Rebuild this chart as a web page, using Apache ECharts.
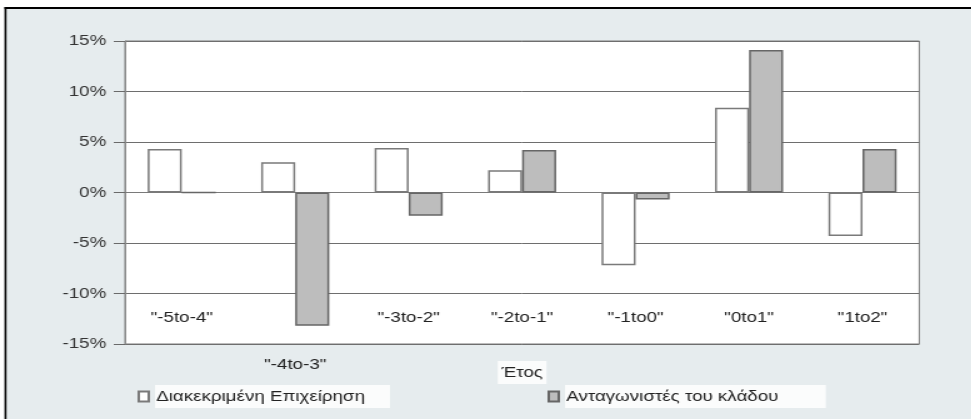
<!DOCTYPE html>
<html>
<head>
<meta charset="utf-8">
<script src="https://cdn.jsdelivr.net/npm/echarts@6/dist/echarts.min.js"></script>
<style>
  html, body { margin: 0; padding: 0; background: #ffffff; overflow: hidden; }
  #c { width: 777px; height: 419px; transform: scaleX(1.25); transform-origin: 0 0; }
</style>
</head>
<body>
<div id="c"></div>
<script>
const categories = ['"-5to-4"', '"-4to-3"', '"-3to-2"', '"-2to-1"', '"-1to0"', '"0to1"', '"1to2"'];
const firmValues = [4.3, 3.0, 4.4, 2.2, -7.2, 8.4, -4.3];
const rivalValues = [0, -13.2, -2.3, 4.2, -0.7, 14.1, 4.3];
const seriesNames = ['Διακεκριμένη Επιχείρηση', 'Ανταγωνιστές του κλάδου'];
const axisTitle = 'Έτος';
const yMin = -15, yMax = 15, yStep = 5;
const lowLabelIndex = 1; // label drawn below the plot (bar reaches near bottom)

const FONT = '"Liberation Sans", Arial, sans-serif';
const chart = echarts.init(document.getElementById('c'), null, { renderer: 'canvas' });

chart.setOption({
  backgroundColor: '#e6ecee',
  animation: false,
  textStyle: { fontFamily: FONT },
  graphic: [
    { type: 'rect', left: 0, top: 0, shape: { width: 777, height: 7 }, style: { fill: '#ffffff' }, silent: true },
    { type: 'rect', left: 0, top: 7, shape: { width: 777, height: 2 }, style: { fill: '#000000' }, silent: true },
    { type: 'rect', left: 0, top: 0, shape: { width: 3.6, height: 419 }, style: { fill: '#ffffff' }, silent: true },
    { type: 'rect', left: 3.6, top: 7, shape: { width: 1.6, height: 412 }, style: { fill: '#000000' }, silent: true }
  ],
  grid: {
    left: 100, right: 41.6, top: 41, bottom: 75,
    show: true, backgroundColor: '#ffffff', borderColor: '#7a7a7a', borderWidth: 1
  },
  legend: [
    {
      data: [seriesNames[0]], left: 110, top: 385, padding: 0,
      icon: 'rect', itemWidth: 8, itemHeight: 10, itemGap: 0,
      textStyle: { fontFamily: FONT, fontSize: 15, color: '#222', backgroundColor: '#fbfcfc', padding: [4, 20, 4, 1] }
    },
    {
      data: [seriesNames[1]], left: 438, top: 385, padding: 0,
      icon: 'rect', itemWidth: 8, itemHeight: 10, itemGap: 0,
      textStyle: { fontFamily: FONT, fontSize: 15, color: '#222', backgroundColor: '#fbfcfc', padding: [4, 38, 4, 1] }
    }
  ],
  xAxis: [
    {
      type: 'category', data: categories, position: 'bottom',
      name: axisTitle, nameLocation: 'middle', nameGap: 17,
      nameTextStyle: { fontFamily: FONT, fontSize: 15, color: '#222', backgroundColor: '#fbfcfc', padding: [4, 3, 4, 3] },
      axisLine: { show: true, lineStyle: { color: '#7a7a7a', width: 1 } },
      axisTick: { show: false },
      axisLabel: {
        interval: 0, margin: -34, fontFamily: FONT, fontSize: 15, color: '#222',
        formatter: (v, i) => (i === lowLabelIndex ? '' : v)
      },
      splitLine: { show: false }
    },
    {
      type: 'category', data: categories, position: 'bottom', offset: 0,
      axisLine: { show: false }, axisTick: { show: false },
      axisLabel: {
        interval: 0, margin: 13, fontFamily: FONT, fontSize: 15, color: '#222',
        formatter: (v, i) => (i === lowLabelIndex ? v : '')
      },
      splitLine: { show: false }
    }
  ],
  yAxis: {
    type: 'value', min: yMin, max: yMax, interval: yStep,
    axisLine: { show: true, lineStyle: { color: '#8a8a8a', width: 1 } },
    axisTick: { show: true, inside: false, length: 9, lineStyle: { color: '#6a6a6a', width: 1 } },
    axisLabel: { margin: 15, fontFamily: FONT, fontSize: 15, color: '#333', formatter: '{value}%' },
    splitLine: { show: true, lineStyle: { color: '#6e6e6e', width: 1 } }
  },
  series: [
    {
      name: seriesNames[0], type: 'bar', xAxisIndex: 0, data: firmValues,
      barCategoryGap: '40%', barGap: '0%',
      itemStyle: { color: '#ffffff', borderColor: '#7a7a7a', borderWidth: 1.5 }
    },
    {
      name: seriesNames[1], type: 'bar', xAxisIndex: 0, data: rivalValues,
      barCategoryGap: '40%', barGap: '0%',
      itemStyle: { color: '#bdbdbd', borderColor: '#666666', borderWidth: 1.5 }
    }
  ]
});
</script>
</body>
</html>
